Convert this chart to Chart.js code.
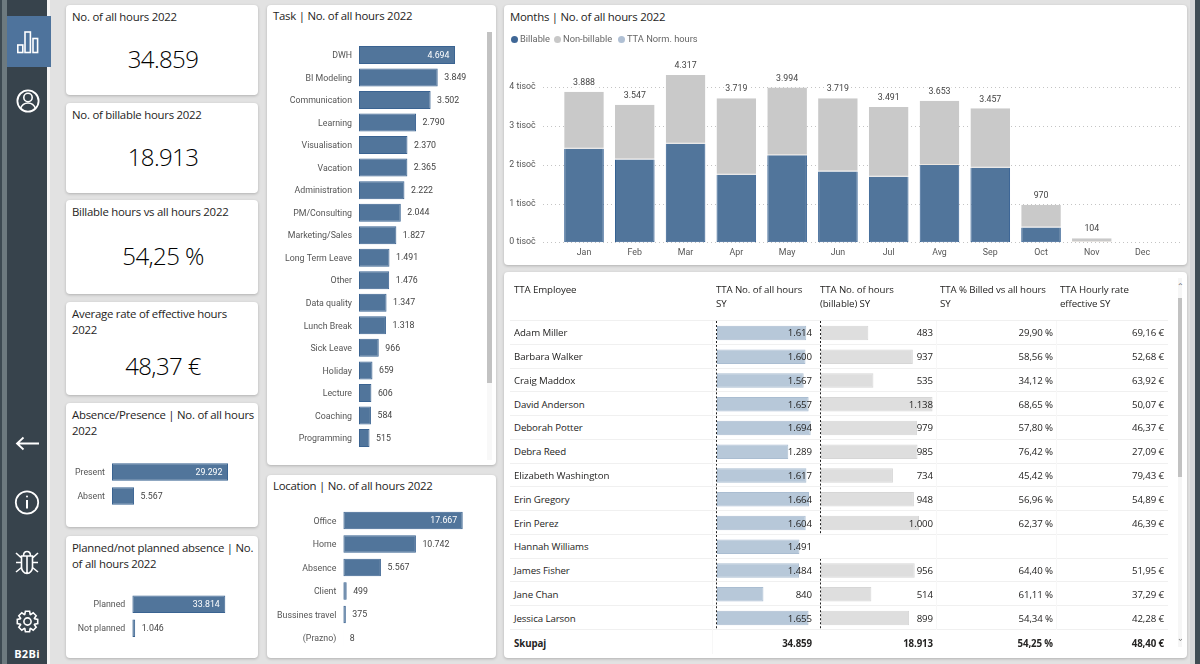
<!DOCTYPE html>
<html>
<head>
<meta charset="utf-8">
<title>Hours 2022</title>
<script src="https://cdn.jsdelivr.net/npm/chart.js@4"></script>
<style>
  html, body { margin: 0; padding: 0; }
  body { width: 1200px; height: 664px; background: #e2e2e2; position: relative; overflow: hidden;
         font-family: "Open Sans", sans-serif; color: #252423; }
  .abs { position: absolute; }
  .card { position: absolute; background: #fff; border-radius: 4px; box-shadow: 0 1px 3px rgba(0,0,0,.22); }
  .title { position: absolute; font-size: 11.4px; line-height: 16px; white-space: nowrap; color: #252423; letter-spacing: -0.25px; }
  .kpi { position: absolute; left: 66px; width: 194px; text-align: center; font-size: 24px; line-height: 30px; color: #000; font-weight: 300; letter-spacing: -0.6px; }
  canvas { position: absolute; display: block; }
  .cell { position: absolute; font-size: 9.7px; line-height: 14px; white-space: nowrap; color: #252423; letter-spacing: -0.1px; }
  .rule { position: absolute; left: 510px; width: 658px; height: 1px; background: #f0f0f0; }
  .vrule { position: absolute; width: 1px; background: #f7f7f7; }
  .leg { position: absolute; font-family: Roboto, sans-serif; font-size: 9.3px; line-height: 12px; color: #666; white-space: nowrap; top: 33px; }
  .dot { position: absolute; width: 7px; height: 7px; border-radius: 50%; top: 35.5px; }
</style>
</head>
<body>
<!-- side bars -->
<div class="abs" style="left:0;top:0;width:2px;height:664px;background:#3d4a52"></div>
<div class="abs" style="left:2px;top:0;width:5px;height:664px;background:#6d7a7f"></div>
<div class="abs" style="left:7px;top:0;width:40px;height:664px;background:#37434c"></div>
<div class="abs" style="left:47px;top:0;width:3px;height:664px;background:#f4f4f4"></div>
<div class="abs" style="left:7px;top:16px;width:44px;height:51px;background:#4e739c"></div>
<div class="abs" style="left:1190px;top:0;width:5px;height:664px;background:#d8d8d8"></div>
<div class="abs" style="left:1195px;top:0;width:5px;height:664px;background:#414d54"></div>

<svg class="abs" style="left:0;top:0" width="52" height="664" fill="none" stroke="#fff" stroke-width="1.6">
  <rect x="17.8" y="45" width="5" height="7.5"/><rect x="25" y="32" width="5.4" height="20.5"/><rect x="33" y="38.5" width="4.6" height="14"/>
  <circle cx="28" cy="101" r="10.6" stroke-width="1.8"/><circle cx="28" cy="97.5" r="4.2"/>
  <path d="M20.5 108.5c1.5-4 4-5.5 7.5-5.5s6 1.5 7.5 5.5"/>
  <path d="M39 443.5H17M23.5 437.5l-6.5 6 6.5 6" stroke-width="1.8"/>
  <circle cx="27" cy="502.5" r="11.2" stroke-width="1.8"/><path d="M27 500v8.5" stroke-width="2"/><circle cx="27" cy="496.5" r="1" fill="#fff" stroke="none"/>
  <path d="M21.5 556h11v11a5.5 6.5 0 0 1-11 0zM23.5 556c0-3 1.5-4.5 3.5-4.5s3.5 1.5 3.5 4.5M27 556v17M16 553l5.5 5M38 553l-5.500 5M16 562.500h5.500M38 562.500h-5.500M16 572l5.500-4.500M38 572l-5.500-4.500"/>
  <path id="gear" stroke-width="1.6"/><circle cx="27.500" cy="621.500" r="3.600"/>
</svg>
<div class="abs" style="left:7px;top:648px;width:40px;text-align:center;font:700 11px/12px 'Open Sans',sans-serif;letter-spacing:.3px;color:#fff">B2Bi</div>

<!-- kpi cards -->
<div class="card" style="left:66px;top:5px;width:192px;height:90px"></div>
<div class="card" style="left:66px;top:103px;width:192px;height:90px"></div>
<div class="card" style="left:66px;top:200px;width:192px;height:94px"></div>
<div class="card" style="left:66px;top:302px;width:192px;height:93px"></div>
<div class="card" style="left:66px;top:403px;width:192px;height:124px"></div>
<div class="card" style="left:66px;top:536px;width:192px;height:122px"></div>
<div class="card" style="left:267px;top:5px;width:229px;height:460px"></div>
<div class="card" style="left:267px;top:475px;width:229px;height:183px"></div>
<div class="card" style="left:504px;top:5px;width:683px;height:260px"></div>
<div class="card" style="left:504px;top:272px;width:683px;height:386px"></div>

<div class="title" style="left:72px;top:9px">No. of all hours 2022</div>
<div class="title" style="left:72px;top:107px">No. of billable hours 2022</div>
<div class="title" style="left:72px;top:204px">Billable hours vs all hours 2022</div>
<div class="title" style="left:72px;top:306px">Average rate of effective hours<br>2022</div>
<div class="title" style="left:72px;top:407px">Absence/Presence | No. of all hours<br>2022</div>
<div class="title" style="left:72px;top:540px">Planned/not planned absence | No.<br>of all hours 2022</div>
<div class="title" style="left:273px;top:8px">Task | No. of all hours 2022</div>
<div class="title" style="left:273px;top:478px">Location | No. of all hours 2022</div>
<div class="title" style="left:510px;top:9px">Months | No. of all hours 2022</div>

<div class="kpi" id="kpi0" style="top:44px"></div>
<div class="kpi" id="kpi1" style="top:142px"></div>
<div class="kpi" id="kpi2" style="top:241px"></div>
<div class="kpi" id="kpi3" style="top:351px"></div>

<canvas id="presenceChart" style="left:66px;top:403px" width="192" height="124"></canvas>
<canvas id="plannedChart" style="left:66px;top:536px" width="192" height="122"></canvas>
<canvas id="taskChart" style="left:267px;top:5px" width="219" height="460"></canvas>
<canvas id="locationChart" style="left:267px;top:475px" width="229" height="183"></canvas>
<canvas id="monthChart" style="left:504px;top:5px" width="683" height="260"></canvas>

<!-- task scrollbar -->
<div class="abs" style="left:487px;top:32px;width:5px;height:428px;background:#f8f8f8"></div>
<div class="abs" style="left:487px;top:32px;width:5px;height:351px;background:#c2c2c2"></div>

<div id="legend"></div>

<canvas id="allHoursBars" style="left:715px;top:321px" width="102" height="309"></canvas>
<canvas id="billableBars" style="left:819px;top:321px" width="116" height="309"></canvas>
<div id="tableText"></div>

<!-- table scrollbar -->
<div class="abs" style="left:1178px;top:278px;width:4px;height:369px;background:#f6f6f6"></div>
<div class="abs" style="left:1178px;top:298px;width:4px;height:179px;background:#c2c2c2"></div>
<div class="abs" style="left:1176px;top:281px;width:8px;font:8px/10px 'Open Sans';color:#666;text-align:center">&#8963;</div>
<div class="abs" style="left:1176px;top:633px;width:8px;font:8px/10px 'Open Sans';color:#666;text-align:center;transform:scaleY(-1)">&#8963;</div>

<script>
// kpi cards
const kpiTexts = ['34.859', '18.913', '54,25 %', '48,37 €'];

// absence/presence
const presenceLabels = ['Present', 'Absent'];
const presenceValues = [29292, 5567];

// planned/not planned
const plannedLabels = ['Planned', 'Not planned'];
const plannedValues = [33814, 1046];

// tasks
const taskLabels = ['DWH', 'BI Modeling', 'Communication', 'Learning', 'Visualisation', 'Vacation', 'Administration',
  'PM/Consulting', 'Marketing/Sales', 'Long Term Leave', 'Other', 'Data quality', 'Lunch Break', 'Sick Leave',
  'Holiday', 'Lecture', 'Coaching', 'Programming'];
const taskValues = [4694, 3849, 3502, 2790, 2370, 2365, 2222, 2044, 1827, 1491, 1476, 1347, 1318, 966, 659, 606, 584, 515];

// location
const locationLabels = ['Office', 'Home', 'Absence', 'Client', 'Bussines travel', '(Prazno)'];
const locationValues = [17667, 10742, 5567, 499, 375, 8];

// months
const monthLabels = ['Jan', 'Feb', 'Mar', 'Apr', 'May', 'Jun', 'Jul', 'Avg', 'Sep', 'Oct', 'Nov', 'Dec'];
const billable = [2415, 2140, 2545, 1745, 2245, 1830, 1693, 1995, 1925, 380, null, null];
const nonBillable = [1473, 1407, 1772, 1974, 1749, 1889, 1798, 1658, 1532, 590, 104, null];
const monthTotals = [3888, 3547, 4317, 3719, 3994, 3719, 3491, 3653, 3457, 970, 104, null];
const monthTicks = [0, 1000, 2000, 3000, 4000];
const legendNames = ['Billable', 'Non-billable', 'TTA Norm. hours'];
const legendColors = ['#3f6796', '#c8c8c8', '#b0c0d4'];

// employee table
const tableHeaders = ['TTA Employee', 'TTA No. of all hours<br>SY', 'TTA No. of hours<br>(billable) SY', 'TTA % Billed vs all hours<br>SY', 'TTA Hourly rate<br>effective SY'];
const employees = ['Adam Miller', 'Barbara Walker', 'Craig Maddox', 'David Anderson', 'Deborah Potter', 'Debra Reed',
  'Elizabeth Washington', 'Erin Gregory', 'Erin Perez', 'Hannah Williams', 'James Fisher', 'Jane Chan', 'Jessica Larson'];
const allHours = [1614, 1600, 1567, 1657, 1694, 1289, 1617, 1664, 1604, 1491, 1484, 840, 1655];
const billableHours = [483, 937, 535, 1138, 979, 985, 734, 948, 1000, null, 956, 514, 899];
const billedPct = [29.90, 58.56, 34.12, 68.65, 57.80, 76.42, 45.42, 56.96, 62.37, null, 64.40, 61.11, 54.34];
const hourlyRate = [69.16, 52.68, 63.92, 50.07, 46.37, 27.09, 79.43, 54.89, 46.39, null, 51.95, 37.29, 42.28];
const tableTotals = ['Skupaj', '34.859', '18.913', '54,25 %', '48,40 €'];

const FONT = 'Roboto, sans-serif';
const BAR_FILL = '#51759b';
const BAR_EDGE = '#3a6391';

function thousands(v) {
  return String(v).replace(/\B(?=(\d{3})+(?!\d))/g, '.');
}
function decimal(v) {
  return v.toFixed(2).replace('.', ',');
}

kpiTexts.forEach(function (t, i) {
  document.getElementById('kpi' + i).textContent = t;
});

// value labels on horizontal bars, white inside when the bar is long enough
const hbarValues = {
  id: 'hbarValues',
  afterDatasetsDraw(chart) {
    const ctx = chart.ctx;
    const meta = chart.getDatasetMeta(0);
    const values = chart.data.datasets[0].data;
    ctx.save();
    ctx.font = '8.8px ' + FONT;
    ctx.textBaseline = 'middle';
    meta.data.forEach(function (bar, i) {
      const txt = thousands(values[i]);
      if (i === 0) {
        ctx.fillStyle = '#fff';
        ctx.textAlign = 'right';
        ctx.fillText(txt, bar.x - 5.5, bar.y + 0.5);
      } else {
        ctx.fillStyle = '#444';
        ctx.textAlign = 'left';
        ctx.fillText(txt, bar.x + 6.5, bar.y + 0.5);
      }
    });
    ctx.restore();
  }
};

// plotLeft/plotTop/rowPitch are card relative, pxPerUnit from the picture
function hbar(id, labels, values, plotLeft, plotTop, rowPitch, pxPerUnit, barH) {
  const cv = document.getElementById(id);
  const plotW = cv.width - plotLeft;
  const plotH = rowPitch * labels.length;
  return new Chart(cv, {
    type: 'bar',
    data: {
      labels: labels,
      datasets: [{
        data: values,
        backgroundColor: BAR_FILL,
        borderColor: BAR_EDGE,
        borderWidth: 1,
        borderSkipped: false,
        barPercentage: barH / rowPitch,
        categoryPercentage: 1
      }]
    },
    options: {
      indexAxis: 'y',
      responsive: false,
      animation: false,
      layout: { padding: { top: plotTop, bottom: cv.height - plotTop - plotH } },
      plugins: { legend: { display: false }, tooltip: { enabled: false } },
      scales: {
        x: { display: false, min: 0, max: plotW / pxPerUnit },
        y: {
          grid: { display: false, drawTicks: false },
          border: { display: false },
          ticks: { font: { size: 8.8, family: FONT }, color: '#555', padding: 7, autoSkip: false, labelOffset: 1 },
          afterFit(s) { s.width = plotLeft; s.paddingTop = 0; s.paddingBottom = 0; }
        }
      }
    },
    plugins: [hbarValues]
  });
}

hbar('presenceChart', presenceLabels, presenceValues, 46, 57, 24, 0.00396, 17.5);
hbar('plannedChart', plannedLabels, plannedValues, 66.3, 56.3, 24, 0.00275, 17.5);
hbar('taskChart', taskLabels, taskValues, 92, 38.7, 22.53, 0.02045, 18);
hbar('locationChart', locationLabels, locationValues, 76.3, 33.7, 23.5, 0.00676, 17.5);

// months chart
const monthDecor = {
  id: 'monthDecor',
  beforeDatasetsDraw(chart) {
    const ctx = chart.ctx;
    const y = chart.scales.y;
    ctx.save();
    ctx.strokeStyle = '#c4c4c4';
    ctx.lineWidth = 1;
    ctx.setLineDash([1, 3]);
    y.ticks.forEach(function (t) {
      const py = Math.round(y.getPixelForValue(t.value)) + 0.5;
      ctx.beginPath();
      ctx.moveTo(39, py);
      ctx.lineTo(678, py);
      ctx.stroke();
    });
    ctx.restore();
  },
  afterDatasetsDraw(chart) {
    const ctx = chart.ctx;
    const x = chart.scales.x;
    const y = chart.scales.y;
    ctx.save();
    ctx.font = '8.8px ' + FONT;
    ctx.textAlign = 'center';
    ctx.textBaseline = 'middle';
    monthTotals.forEach(function (v, i) {
      if (v === null) return;
      const txt = thousands(v);
      const px = x.getPixelForValue(i);
      const py = y.getPixelForValue(v) - 9;
      const w = ctx.measureText(txt).width;
      ctx.fillStyle = '#fff';
      ctx.fillRect(px - w / 2 - 1, py - 5, w + 2, 10);
      ctx.fillStyle = '#444';
      ctx.fillText(txt, px, py);
    });
    ctx.restore();
  }
};

new Chart(document.getElementById('monthChart'), {
  type: 'bar',
  data: {
    labels: monthLabels,
    datasets: [
      {
        label: 'Billable', data: billable, backgroundColor: BAR_FILL, borderColor: '#2f5c8f',
        borderWidth: { left: 1, right: 1, bottom: 1, top: 0 }, borderSkipped: false, stack: 'h',
        barPercentage: 0.78, categoryPercentage: 1
      },
      {
        label: 'Non-billable', data: nonBillable, backgroundColor: '#c9c9c9', borderColor: '#ece6df',
        borderWidth: { left: 0, right: 0, top: 0, bottom: 1 }, borderSkipped: false, stack: 'h',
        barPercentage: 0.78, categoryPercentage: 1
      }
    ]
  },
  options: {
    responsive: false,
    animation: false,
    layout: { padding: { top: 66.8, right: 19 } },
    plugins: { legend: { display: false }, tooltip: { enabled: false } },
    scales: {
      x: {
        stacked: true,
        grid: { display: false, drawTicks: false },
        border: { display: false },
        ticks: { font: { size: 8.8, family: FONT }, color: '#555', padding: 5, autoSkip: false, maxRotation: 0 },
        afterFit(s) { s.height = 22.7; s.paddingLeft = 0; s.paddingRight = 0; }
      },
      y: {
        stacked: true,
        min: 0,
        max: 4400,
        grid: { display: false, drawTicks: false },
        border: { display: false },
        afterBuildTicks(s) { s.ticks = monthTicks.map(function (v) { return { value: v }; }); },
        ticks: {
          font: { size: 8.8, family: FONT },
          color: '#555',
          padding: 23,
          callback: function (v) { return (v / 1000) + ' tisoč'; }
        },
        afterFit(s) { s.width = 54.6; s.paddingTop = 0; s.paddingBottom = 0; }
      }
    }
  },
  plugins: [monthDecor]
});

// legend, the third series has no bars in 2022
const legendDotX = [510.5, 553.5, 617.5];
const legendTextX = [520, 563, 627];
let legendHtml = '';
legendNames.forEach(function (n, i) {
  legendHtml += '<div class="dot" style="left:' + legendDotX[i] + 'px;background:' + legendColors[i] + '"></div>';
  legendHtml += '<div class="leg" style="left:' + legendTextX[i] + 'px">' + n + '</div>';
});
document.getElementById('legend').innerHTML = legendHtml;

// data bars in the table, one chart per column
const rowAxis = {
  id: 'rowAxis',
  beforeDatasetsDraw(chart) {
    const ctx = chart.ctx;
    const y = chart.scales.y;
    const vals = chart.data.datasets[0].data;
    const step = y.getPixelForValue(1) - y.getPixelForValue(0);
    ctx.save();
    ctx.strokeStyle = '#222';
    ctx.lineWidth = 1;
    ctx.setLineDash([2, 2]);
    vals.forEach(function (v, i) {
      if (v === null) return;
      const py = y.getPixelForValue(i);
      ctx.beginPath();
      ctx.moveTo(1.5, py - step / 2);
      ctx.lineTo(1.5, py + step / 2);
      ctx.stroke();
    });
    ctx.restore();
  }
};

function dataBars(id, values, pxPerUnit, fill, edge) {
  const cv = document.getElementById(id);
  return new Chart(cv, {
    type: 'bar',
    data: {
      labels: employees,
      datasets: [{
        data: values, backgroundColor: fill, borderColor: edge, borderWidth: 1, borderSkipped: false,
        barPercentage: 0.61, categoryPercentage: 1
      }]
    },
    options: {
      indexAxis: 'y',
      responsive: false,
      animation: false,
      layout: { padding: { left: 2 } },
      plugins: { legend: { display: false }, tooltip: { enabled: false } },
      scales: {
        x: { display: false, min: 0, max: (cv.width - 2) / pxPerUnit },
        y: { display: false }
      }
    },
    plugins: [rowAxis]
  });
}
dataBars('allHoursBars', allHours, 0.0553, '#b7c8d9', '#aabdd1');
dataBars('billableBars', billableHours, 0.098, '#dedede', '#d6d6d6');

// table text
const ROW_TOP = 321.5;
const ROW_H = 23.77;
const colRight = [812, 933, 1053, 1164];
const headerX = [514, 716, 820, 940, 1060];
let tableHtml = '';
tableHeaders.forEach(function (h, i) {
  tableHtml += '<div class="cell" style="left:' + headerX[i] + 'px;top:283px">' + h + '</div>';
});
function cell(txt, right, rowIdx) {
  const top = ROW_TOP + rowIdx * ROW_H + (ROW_H - 14) / 2;
  return '<div class="cell" style="right:' + (1200 - right) + 'px;top:' + top + 'px">' + txt + '</div>';
}
for (let r = 0; r <= employees.length; r++) {
  tableHtml += '<div class="rule" style="top:' + Math.round(321 + r * ROW_H - 1) + 'px"></div>';
}
employees.forEach(function (name, r) {
  const top = ROW_TOP + r * ROW_H + (ROW_H - 14) / 2;
  tableHtml += '<div class="cell" style="left:514px;top:' + top + 'px">' + name + '</div>';
  tableHtml += cell(thousands(allHours[r]), colRight[0], r);
  if (billableHours[r] !== null) {
    tableHtml += cell(thousands(billableHours[r]), colRight[1], r);
    tableHtml += cell(decimal(billedPct[r]) + ' %', colRight[2], r);
    tableHtml += cell(decimal(hourlyRate[r]) + ' €', colRight[3], r);
  }
});
const totalTop = 637;
tableHtml += '<div class="cell" style="left:514px;top:' + totalTop + 'px;font-weight:700">' + tableTotals[0] + '</div>';
for (let c = 0; c < 4; c++) {
  tableHtml += '<div class="cell" style="right:' + (1200 - colRight[c]) + 'px;top:' + totalTop + 'px;font-weight:700">' + tableTotals[c + 1] + '</div>';
}
tableHtml += '<div class="vrule" style="left:712px;top:321px;height:333px"></div>';
tableHtml += '<div class="vrule" style="left:936px;top:321px;height:309px"></div>';
tableHtml += '<div class="vrule" style="left:1056px;top:321px;height:309px"></div>';
document.getElementById('tableText').innerHTML = tableHtml;

// gear outline for the side bar
(function () {
  const cx = 27.5, cy = 621.5, pts = [];
  for (let i = 0; i < 8; i++) {
    const a = i * Math.PI / 4;
    [[-0.36, 7.6], [-0.2, 10.4], [0.2, 10.4], [0.36, 7.6]].forEach(function (p) {
      pts.push((cx + p[1] * Math.sin(a + p[0])).toFixed(1) + ' ' + (cy - p[1] * Math.cos(a + p[0])).toFixed(1));
    });
  }
  document.getElementById('gear').setAttribute('d', 'M' + pts.join('L') + 'Z');
})();
</script>
</body>
</html>
